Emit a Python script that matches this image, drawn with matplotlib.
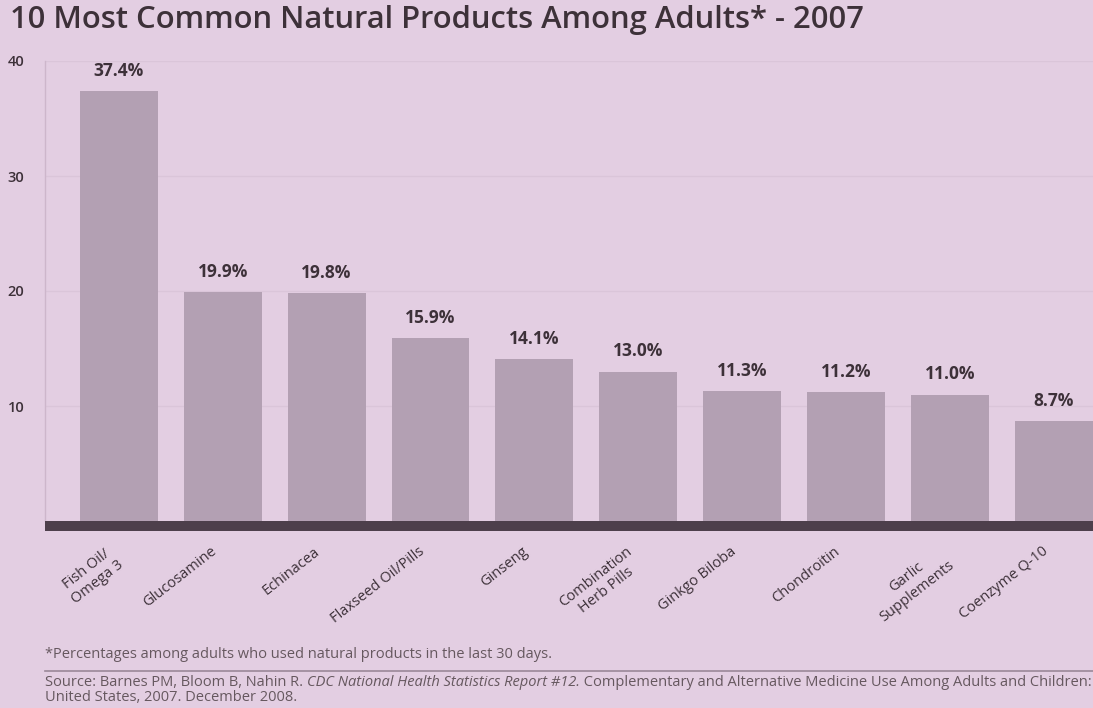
import matplotlib.pyplot as plt
import matplotlib.transforms as mtransforms
import numpy as np

plt.rcParams['font.family'] = ['Open Sans', 'DejaVu Sans']

# data
products = ['Fish Oil/\nOmega 3', 'Glucosamine', 'Echinacea', 'Flaxseed Oil/Pills', 'Ginseng',
            'Combination\nHerb Pills', 'Ginkgo Biloba', 'Chondroitin', 'Garlic\nSupplements',
            'Coenzyme Q-10']
percents = [37.4, 19.9, 19.8, 15.9, 14.1, 13.0, 11.3, 11.2, 11.0, 8.7]
yticks = [10, 20, 30, 40]

bg = '#e3cee2'
bar_c = '#b3a0b3'
txt_c = '#3d3139'

fig = plt.figure(figsize=(10.93, 7.08), dpi=100, facecolor=bg)
ax = fig.add_axes([45 / 1093, 1 - 521 / 708, 1 - 45 / 1093, 460 / 708], facecolor=bg)

# spines first: set_position resets the ticks
for s in ['top', 'right']:
    ax.spines[s].set_visible(False)
ax.spines['left'].set_color('#cdb6cb')
ax.spines['left'].set_linewidth(1)
ax.spines['bottom'].set_color('#4d3f4b')
ax.spines['bottom'].set_linewidth(7.2)
ax.spines['bottom'].set_position(('outward', 3.6))
ax.spines['bottom'].set_capstyle('butt')

x = np.arange(len(products))
bars = ax.bar(x, percents, width=0.75, color=bar_c, zorder=2)
for xi, v in zip(x, percents):
    ax.annotate('%.1f%%' % v, (xi, v), xytext=(0, 8), textcoords='offset points',
                ha='center', va='bottom', fontsize=12.5, fontweight='bold', color=txt_c)

ax.set_xlim(-0.71, 9.375)
ax.set_ylim(0, 40)
ax.set_yticks(yticks)
ax.set_yticklabels([str(t) for t in yticks], fontsize=10.5, color=txt_c, ha='left',
                   fontweight='semibold')
ax.tick_params(axis='y', length=0, pad=27)
ax.grid(axis='y', color='#dac5d9', linewidth=1, zorder=0)

ax.set_xticks(x)
ax.tick_params(axis='x', length=0, pad=13)
ax.set_xticklabels(products, fontsize=10.5, color=txt_c, rotation=38, ha='right', va='top',
                   rotation_mode='anchor', multialignment='center')
shift = mtransforms.ScaledTranslation(-9 / 72, 0, fig.dpi_scale_trans)
for lab in ax.get_xticklabels():
    lab.set_transform(lab.get_transform() + shift)

fig.text(10 / 1093, 1 - 20 / 708, '10 Most Common Natural Products Among Adults* - 2007',
         fontsize=22.3, fontweight='semibold', color=txt_c, va='center', ha='left')

# footnote and source
small = dict(fontsize=10.5, color='#66585f')
fig.text(45 / 1093, 1 - 655 / 708,
         '*Percentages among adults who used natural products in the last 30 days.',
         va='center', **small)
fig.add_artist(plt.Line2D([45 / 1093, 1], [1 - 671 / 708, 1 - 671 / 708],
                          color='#9a8898', linewidth=1.2))
t1 = fig.text(45 / 1093, 1 - 686 / 708, 'Source: Barnes PM, Bloom B, Nahin R. ',
              va='baseline', **small)
t2 = fig.text(0, 0, 'CDC National Health Statistics Report #12.', style='italic',
              va='baseline', **small)
t3 = fig.text(0, 0, ' Complementary and Alternative Medicine Use Among Adults and Children:',
              va='baseline', **small)
fig.text(45 / 1093, 1 - 701 / 708, 'United States, 2007. December 2008.',
         va='baseline', **small)

fig.canvas.draw()
r = fig.canvas.get_renderer()
inv = fig.transFigure.inverted()
e1 = t1.get_window_extent(r)
t2.set_position((inv.transform((e1.x1, 0))[0], 1 - 686 / 708))
e2 = t2.get_window_extent(r)
t3.set_position((inv.transform((e2.x1, 0))[0], 1 - 686 / 708))

fig.savefig('out.png', dpi=100, facecolor=bg)
